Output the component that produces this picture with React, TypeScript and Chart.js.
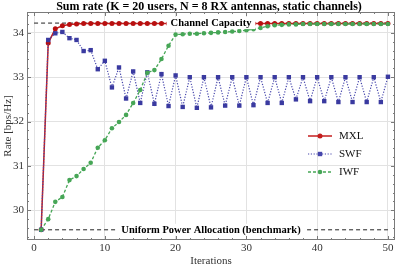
import React, { useEffect, useRef } from 'react';
import { Chart, registerables } from 'chart.js';

Chart.register(...registerables);

const iterations = [1, 2, 3, 4, 5, 6, 7, 8, 9, 10, 11, 12, 13, 14, 15, 16, 17, 18, 19, 20, 21, 22, 23, 24, 25, 26, 27, 28, 29, 30, 31, 32, 33, 34, 35, 36, 37, 38, 39, 40, 41, 42, 43, 44, 45, 46, 47, 48, 49, 50];

const mxlRate = [29.56, 33.77, 34.09, 34.16, 34.19, 34.2, 34.21, 34.21, 34.21, 34.21, 34.21, 34.21, 34.21, 34.21, 34.21, 34.21, 34.21, 34.21, 34.21, 34.21, 34.21, 34.21, 34.21, 34.21, 34.21, 34.21, 34.21, 34.21, 34.21, 34.21, 34.21, 34.21, 34.21, 34.21, 34.21, 34.21, 34.21, 34.21, 34.21, 34.21, 34.21, 34.21, 34.21, 34.21, 34.21, 34.21, 34.21, 34.21, 34.21, 34.21];

const swfRate = [29.56, 33.84, 33.99, 34.02, 33.88, 33.84, 33.59, 33.61, 33.18, 33.37, 32.77, 33.22, 32.52, 33.13, 32.42, 33.11, 32.4, 33.07, 32.35, 33.04, 32.33, 33.0, 32.31, 33.0, 32.32, 33.0, 32.36, 33.0, 32.36, 33.0, 32.37, 33.0, 32.42, 33.0, 32.42, 33.0, 32.5, 33.0, 32.46, 33.0, 32.46, 33.0, 32.44, 33.0, 32.44, 33.0, 32.44, 33.0, 32.44, 33.01];

const iwfRate = [29.56, 29.8, 30.19, 30.3, 30.68, 30.77, 30.93, 31.07, 31.41, 31.58, 31.85, 31.99, 32.15, 32.42, 32.71, 33.1, 33.16, 33.41, 33.71, 33.96, 33.97, 33.98, 33.98, 33.99, 34.0, 34.01, 34.02, 34.03, 34.04, 34.06, 34.08, 34.11, 34.15, 34.17, 34.18, 34.19, 34.19, 34.2, 34.2, 34.2, 34.2, 34.2, 34.2, 34.2, 34.2, 34.2, 34.2, 34.2, 34.2, 34.2];

const capacityRate = 34.22;
const uniformRate = 29.56;
const refSpan = [0, 50];
const capacityLabel = 'Channel Capacity';
const uniformLabel = 'Uniform Power Allocation (benchmark)';

const xTickValues = [0, 10, 20, 30, 40, 50];
const yTickValues = [30, 31, 32, 33, 34];
const seriesNames = ['MXL', 'SWF', 'IWF'];
const titleText = 'Sum rate (K = 20 users, N = 8 RX antennas, static channels)';
const xTitle = 'Iterations';
const yTitle = 'Rate [bps/Hz]';

const SERIF = '"Liberation Serif", "Times New Roman", serif';
const RED = '#c41e1e';
const BLUE = '#4646ac';
const GREEN = '#46a656';
const FRAME = '#7a7a7a';

const legendStyles = [
  { color: RED, dash: [] as number[], width: 1.5, shape: 'circle', r: 2.5 },
  { color: BLUE, dash: [1.2, 1.6], width: 1.2, shape: 'rect', r: 2.2 },
  { color: GREEN, dash: [3, 2], width: 1.3, shape: 'circle', r: 2.3 },
];

function drawMarker(ctx: CanvasRenderingContext2D, shape: string, x: number, y: number, r: number, color: string) {
  ctx.fillStyle = color;
  ctx.beginPath();
  if (shape === 'rect') {
    ctx.rect(x - r, y - r, 2 * r, 2 * r);
  } else {
    ctx.arc(x, y, r, 0, Math.PI * 2);
  }
  ctx.fill();
}

const decorPlugin = {
  id: 'decor',
  afterDatasetsDraw(chart: any) {
    const { ctx, chartArea: a, scales } = chart;
    const xs = scales.x;
    const ys = scales.y;
    ctx.save();

    // reference line labels
    const midX = xs.getPixelForValue((refSpan[0] + refSpan[1]) / 2);
    ctx.font = `bold 10.5px ${SERIF}`;
    ctx.textAlign = 'center';
    ctx.textBaseline = 'middle';
    const refs: [string, number][] = [
      [capacityLabel, capacityRate],
      [uniformLabel, uniformRate],
    ];
    for (const [txt, val] of refs) {
      const y = ys.getPixelForValue(val);
      const w = ctx.measureText(txt).width;
      ctx.fillStyle = '#ffffff';
      ctx.fillRect(midX - w / 2 - 4, y - 6, w + 8, 12);
      ctx.fillStyle = '#000000';
      ctx.fillText(txt, midX, y + 0.5);
    }

    // legend
    const lx0 = a.right - 87;
    const lx1 = a.right - 63;
    const lxm = (lx0 + lx1) / 2;
    const ltx = a.right - 56;
    ctx.font = `11px ${SERIF}`;
    ctx.textAlign = 'left';
    ctx.textBaseline = 'middle';
    seriesNames.forEach((name, i) => {
      const st = legendStyles[i];
      const y = a.top + 124 + i * 18;
      ctx.strokeStyle = st.color;
      ctx.lineWidth = st.width;
      ctx.setLineDash(st.dash);
      ctx.beginPath();
      ctx.moveTo(lx0, y);
      ctx.lineTo(lx1, y);
      ctx.stroke();
      ctx.setLineDash([]);
      drawMarker(ctx, st.shape, lxm, y, st.r, st.color);
      ctx.fillStyle = '#111';
      ctx.fillText(name, ltx, y + 0.5);
    });

    // frame
    ctx.strokeStyle = FRAME;
    ctx.lineWidth = 1;
    ctx.setLineDash([]);
    ctx.strokeRect(a.left + 0.5, a.top + 0.5, a.right - a.left - 1, a.bottom - a.top - 1);

    // frame ticks
    ctx.beginPath();
    for (let k = 0; k <= 25; k++) {
      const v = k * 2;
      const px = Math.round(xs.getPixelForValue(v)) + 0.5;
      const len = v % 10 === 0 ? 4 : 2;
      ctx.moveTo(px, a.bottom);
      ctx.lineTo(px, a.bottom - len);
      ctx.moveTo(px, a.top);
      ctx.lineTo(px, a.top + len);
    }
    for (let k = 147; k <= 172; k++) {
      const v = k / 5;
      const py = Math.round(ys.getPixelForValue(v)) + 0.5;
      if (py < a.top || py > a.bottom) continue;
      const len = k % 5 === 0 ? 4 : 2;
      ctx.moveTo(a.left, py);
      ctx.lineTo(a.left + len, py);
      ctx.moveTo(a.right, py);
      ctx.lineTo(a.right - len, py);
    }
    ctx.stroke();
    ctx.restore();
  },
  afterDraw(chart: any) {
    const { ctx, chartArea: a } = chart;
    ctx.save();
    ctx.font = `bold 12px ${SERIF}`;
    ctx.fillStyle = '#000';
    ctx.textAlign = 'center';
    ctx.textBaseline = 'middle';
    ctx.fillText(titleText, (a.left + a.right) / 2 - 2, 6.5);
    ctx.restore();
  },
};

function toPoints(vals: number[]) {
  return iterations.map((it, i) => ({ x: it, y: vals[i] }));
}

export default function App() {
  const canvasRef = useRef<HTMLCanvasElement | null>(null);

  useEffect(() => {
    if (!canvasRef.current) return;
    const chart = new Chart(canvasRef.current, {
      type: 'line',
      data: {
        datasets: [
          {
            label: seriesNames[2],
            data: toPoints(iwfRate),
            borderColor: GREEN,
            backgroundColor: GREEN,
            borderWidth: 1.3,
            borderDash: [3, 2],
            pointStyle: 'circle',
            pointRadius: 2.3,
            pointBorderWidth: 0,
            pointBackgroundColor: GREEN,
            order: 0,
          },
          {
            label: seriesNames[1],
            data: toPoints(swfRate),
            borderColor: BLUE,
            backgroundColor: BLUE,
            borderWidth: 1.2,
            borderDash: [1.2, 1.6],
            pointStyle: 'rect',
            pointRadius: 3.1,
            pointBorderWidth: 0,
            pointBackgroundColor: '#3a3aa0',
            order: 1,
          },
          {
            label: seriesNames[0],
            data: toPoints(mxlRate),
            borderColor: RED,
            backgroundColor: RED,
            borderWidth: 1.5,
            pointStyle: 'circle',
            pointRadius: 2.5,
            pointBorderWidth: 0,
            pointBackgroundColor: '#b81010',
            order: 2,
          },
          {
            label: capacityLabel,
            data: refSpan.map((x) => ({ x, y: capacityRate })),
            borderColor: '#222',
            borderWidth: 1,
            borderDash: [4, 3],
            pointRadius: 0,
            order: 3,
          },
          {
            label: uniformLabel,
            data: refSpan.map((x) => ({ x, y: uniformRate })),
            borderColor: '#222',
            borderWidth: 1,
            borderDash: [4, 3],
            pointRadius: 0,
            order: 3,
          },
        ],
      },
      options: {
        responsive: false,
        animation: false,
        layout: { padding: { top: 12, right: 2, bottom: 0, left: 0 } },
        plugins: {
          legend: { display: false },
          title: { display: false },
          tooltip: { enabled: false },
        },
        scales: {
          x: {
            type: 'linear',
            min: -1,
            max: 51,
            afterBuildTicks: (s: any) => {
              s.ticks = xTickValues.map((v) => ({ value: v }));
            },
            afterFit: (s: any) => {
              s.height = 29;
            },
            grid: { color: '#e2e2e2', lineWidth: 1, drawTicks: false },
            border: { display: false },
            ticks: {
              font: { family: SERIF, size: 11 },
              color: '#333',
              padding: 2,
              maxRotation: 0,
              autoSkip: false,
            },
            title: {
              display: true,
              text: xTitle,
              font: { family: SERIF, size: 11 },
              color: '#333',
              padding: { top: 0, bottom: 1.4 },
            },
          },
          y: {
            type: 'linear',
            min: 29.33,
            max: 34.47,
            afterBuildTicks: (s: any) => {
              s.ticks = yTickValues.map((v) => ({ value: v }));
            },
            afterFit: (s: any) => {
              s.width = 27;
            },
            grid: { color: '#e2e2e2', lineWidth: 1, drawTicks: false },
            border: { display: false },
            ticks: {
              font: { family: SERIF, size: 11 },
              color: '#333',
              padding: 3,
              autoSkip: false,
            },
            title: {
              display: true,
              text: yTitle,
              font: { family: SERIF, size: 11 },
              color: '#333',
              padding: { top: 1.4, bottom: 0 },
            },
          },
        },
      },
      plugins: [decorPlugin],
    } as any);
    return () => chart.destroy();
  }, []);

  return (
    <div style={{ position: 'fixed', left: 0, top: 0, width: 399, height: 269, background: '#fff' }}>
      <canvas ref={canvasRef} width={399} height={269} />
    </div>
  );
}
